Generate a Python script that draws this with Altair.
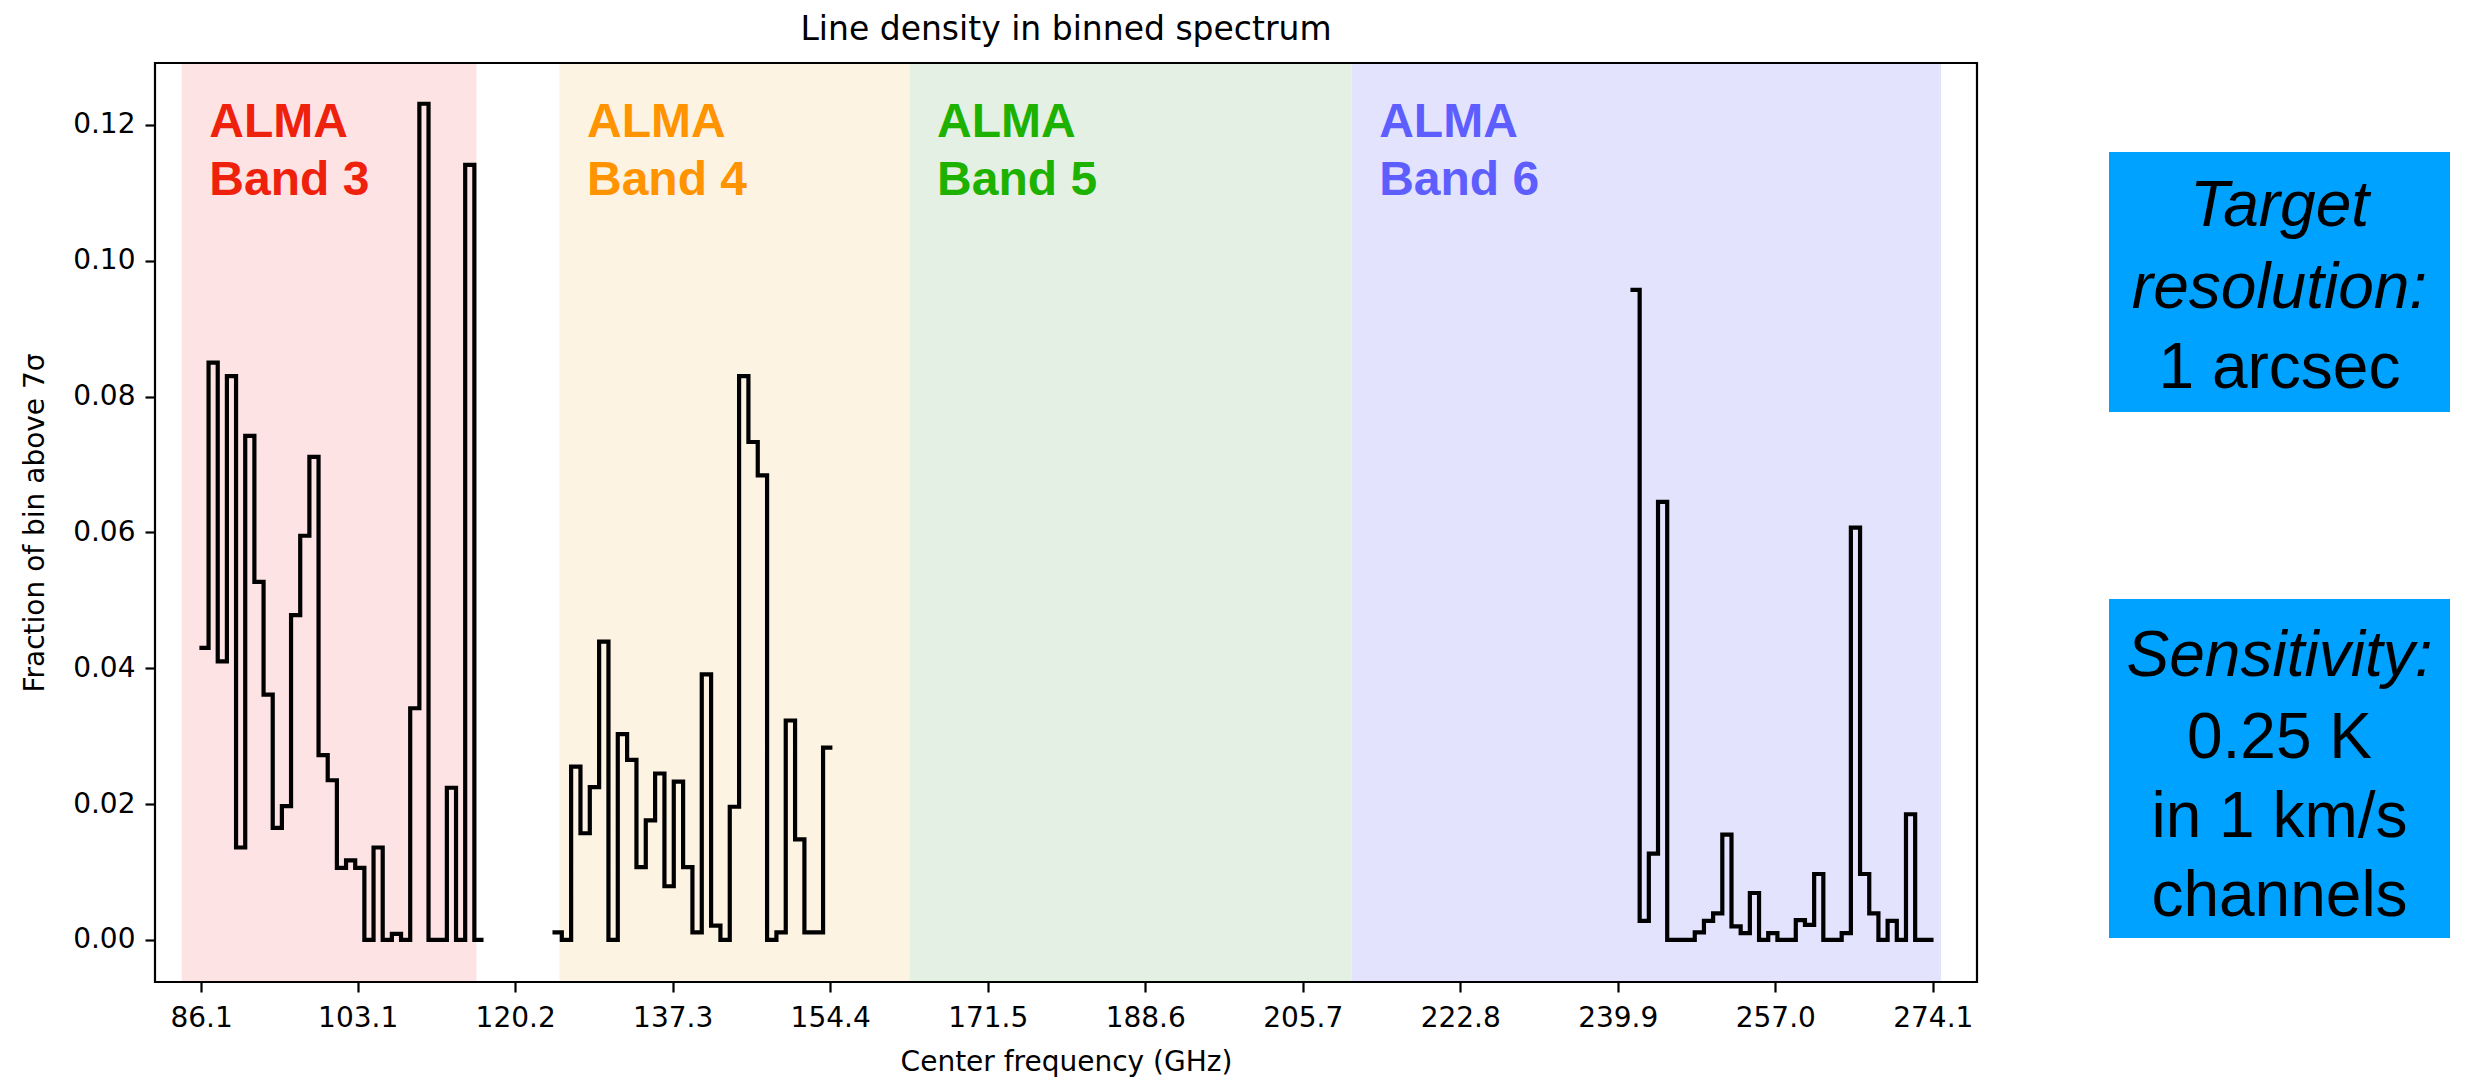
import altair as alt
import pandas as pd

# ---------------- data ----------------
band_names = ["Band 3", "Band 4", "Band 5", "Band 6"]
band_lo = [84, 125, 163, 211]
band_hi = [116, 163, 211, 275]
band_fill = ["#FEE3E5", "#FDF3E3", "#E5F0E4", "#E3E3FD"]
band_text_color = ["#EE220C", "#FF9300", "#1DB100", "#5E5EFF"]

b3_start, b3_width = 85.92, 0.995
b3_vals = [0.043, 0.085, 0.041, 0.083, 0.0136, 0.0742, 0.0527, 0.0361, 0.0165, 0.0197,
           0.0478, 0.0595, 0.0711, 0.0272, 0.0235, 0.0106, 0.0117, 0.0106, 0.0, 0.0136,
           0.0, 0.0009, 0.0, 0.0341, 0.1231, 0.0, 0.0, 0.0224, 0.0, 0.1141, 0.0]

b4_start, b4_width = 124.25, 1.013
b4_vals = [0.0011, 0.0, 0.0255, 0.0157, 0.0225, 0.0439, 0.0, 0.0303, 0.0265, 0.0107,
           0.0176, 0.0245, 0.0079, 0.0233, 0.0107, 0.0011, 0.0391, 0.0021, 0.0, 0.0196,
           0.0830, 0.0733, 0.0684, 0.0, 0.0011, 0.0323, 0.0148, 0.0011, 0.0011, 0.0283]

b6_start, b6_width = 241.28, 0.997
b6_vals = [0.0957, 0.0028, 0.0127, 0.0645, 0.0, 0.0, 0.0, 0.0011, 0.0028, 0.0039,
           0.0155, 0.0020, 0.0010, 0.0069, 0.0, 0.0010, 0.0, 0.0, 0.0029, 0.0022,
           0.0097, 0.0, 0.0, 0.0010, 0.0607, 0.0097, 0.0039, 0.0, 0.0028, 0.0,
           0.0185, 0.0, 0.0]

x_ticks = [86.1, 103.1, 120.2, 137.3, 154.4, 171.5, 188.6, 205.7, 222.8, 239.9, 257.0, 274.1]
y_ticks = [0.0, 0.02, 0.04, 0.06, 0.08, 0.10, 0.12]

# ---------------- tables ----------------
rows = []
for name, start, width, vals in [("Band 3", b3_start, b3_width, b3_vals),
                                 ("Band 4", b4_start, b4_width, b4_vals),
                                 ("Band 6", b6_start, b6_width, b6_vals)]:
    for i, v in enumerate(vals):
        rows.append({"band": name, "freq": start + i * width, "value": v})
    rows.append({"band": name, "freq": start + len(vals) * width, "value": vals[-1]})
step_df = pd.DataFrame(rows)

band_df = pd.DataFrame({"name": band_names, "lo": band_lo, "hi": band_hi})

# ---------------- layout ----------------
W, H = 1822, 919
FONT = "DejaVu Sans"
SANS = "Liberation Sans"

xscale = alt.Scale(domain=[81.1, 278.9], nice=False, zero=False)
yscale = alt.Scale(domain=[-0.0062, 0.1291], nice=False, zero=False)

xaxis = alt.Axis(values=x_ticks, format=".1f", title="Center frequency (GHz)",
                 titleFont=FONT, titleFontSize=28, titleFontWeight="normal", titleColor="black",
                 titleY=88, titleBaseline="alphabetic",
                 labelFont=FONT, labelFontSize=28, labelColor="black", labelPadding=12,
                 labelFlush=False, labelOverlap=False,
                 tickColor="black", tickWidth=2.2, tickSize=10, domain=False, grid=False)
yaxis = alt.Axis(values=y_ticks, format=".2f", title="Fraction of bin above 7σ",
                 titleFont=FONT, titleFontSize=28, titleFontWeight="normal", titleColor="black",
                 titleX=-112, titleBaseline="alphabetic",
                 labelFont=FONT, labelFontSize=28, labelColor="black", labelPadding=10,
                 labelFlush=False, labelOverlap=False,
                 tickColor="black", tickWidth=2.2, tickSize=10, domain=False, grid=False)

spans = alt.Chart(band_df).mark_rect().encode(
    x=alt.X("lo:Q", scale=xscale, axis=xaxis),
    x2="hi:Q",
    y=alt.value(0), y2=alt.value(H),
    color=alt.Color("name:N", scale=alt.Scale(domain=band_names, range=band_fill), legend=None),
)

label_base = alt.Chart(band_df).transform_calculate(label_x="datum.lo + 3")
band_text_top = label_base.mark_text(
    align="left", baseline="alphabetic", font=SANS, fontWeight="bold", fontSize=48, text="ALMA"
).encode(
    x=alt.X("label_x:Q", scale=xscale, axis=xaxis),
    y=alt.value(73.7),
    color=alt.Color("name:N", scale=alt.Scale(domain=band_names, range=band_text_color), legend=None),
)
band_text_bot = label_base.mark_text(
    align="left", baseline="alphabetic", font=SANS, fontWeight="bold", fontSize=48
).encode(
    x=alt.X("label_x:Q", scale=xscale, axis=xaxis),
    y=alt.value(132),
    text="name:N",
    color=alt.Color("name:N", scale=alt.Scale(domain=band_names, range=band_text_color), legend=None),
)

line = alt.Chart(step_df).mark_line(
    interpolate="step-after", color="black", strokeWidth=4.2
).encode(
    x=alt.X("freq:Q", scale=xscale, axis=xaxis),
    y=alt.Y("value:Q", scale=yscale, axis=yaxis),
    detail="band:N",
)

one = alt.Data(values=[{"k": 0}])
frame = alt.Chart(one).mark_rect(filled=False, stroke="black", strokeWidth=2.2).encode(
    x=alt.value(0), x2=alt.value(W), y=alt.value(0), y2=alt.value(H)
)

title = alt.Chart(one).mark_text(
    align="center", baseline="alphabetic", font=FONT, fontSize=33, color="black",
    text="Line density in binned spectrum"
).encode(x=alt.value(W / 2), y=alt.value(-23.5))

BOX_BLUE = "#00A2FF"
BX0, BX1 = 1954, 2295
box1 = alt.Chart(one).mark_rect(color=BOX_BLUE).encode(
    x=alt.value(BX0), x2=alt.value(BX1), y=alt.value(89), y2=alt.value(349))
box2 = alt.Chart(one).mark_rect(color=BOX_BLUE).encode(
    x=alt.value(BX0), x2=alt.value(BX1), y=alt.value(536), y2=alt.value(875))

box_lines = [("Target", 163, "italic"), ("resolution:", 245, "italic"), ("1 arcsec", 325, "normal"),
             ("Sensitivity:", 613, "italic"), ("0.25 K", 694.6, "normal"),
             ("in 1 km/s", 773.6, "normal"), ("channels", 852.6, "normal")]
box_texts = []
for txt, yy, style in box_lines:
    box_texts.append(
        alt.Chart(one).mark_text(
            align="center", baseline="alphabetic", font=SANS, fontSize=64,
            fontStyle=style, color="black", text=txt
        ).encode(x=alt.value((BX0 + BX1) / 2), y=alt.value(yy))
    )

chart = alt.layer(spans, band_text_top, band_text_bot, line, frame, title, box1, box2,
                  *box_texts).resolve_scale(
    color="independent"
).properties(
    width=W, height=H,
    autosize=alt.AutoSizeParams(type="none"),
    padding={"left": 155, "top": 63, "right": 2484 - 155 - W, "bottom": 1078 - 63 - H},
    background="white",
).configure_view(stroke="transparent")

chart.save("out.html", embed_options={"renderer": "svg", "actions": False})
